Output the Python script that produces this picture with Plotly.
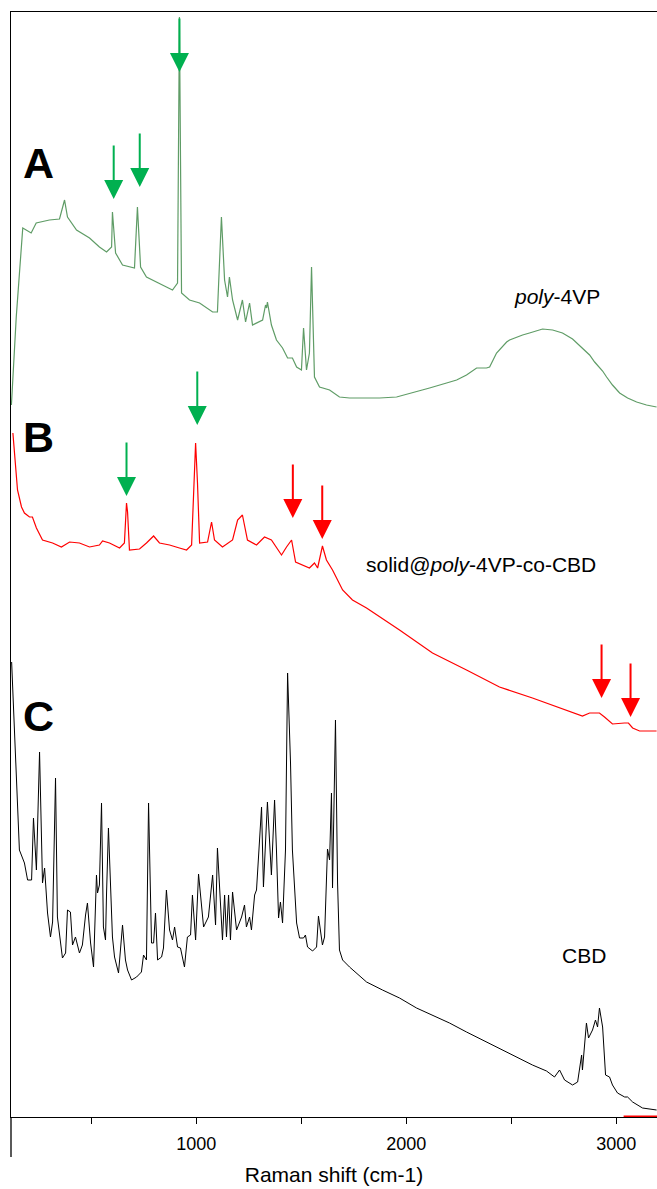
import plotly.graph_objects as go

# ---------------- data (Raman shift in cm-1, intensity in a.u. on the stacked axis) ----------------
shift_A = [120, 143, 174, 190, 214, 238, 301, 349, 373, 387, 430, 492, 539, 573, 597, 601, 616, 649, 706, 720,
           735, 763, 825, 858, 887, 911, 920, 930, 968, 1016, 1078, 1101, 1120, 1135, 1149, 1158, 1173, 1197, 1220,
           1235, 1254, 1268, 1316, 1330, 1335, 1339, 1358, 1382, 1411, 1435, 1458, 1478, 1501, 1511, 1525, 1539,
           1549, 1563, 1587, 1635, 1682, 1730, 1792, 1873, 1954, 2030, 2111, 2192, 2240, 2287, 2335, 2382, 2397,
           2430, 2459, 2478, 2492, 2525, 2554, 2587, 2649, 2697, 2744, 2792, 2840, 2873, 2897, 2920, 2935, 2954,
           2982, 3016, 3054, 3097, 3144, 3192]
int_A = [712, 800, 889, 887, 884, 894, 897, 898, 917, 900, 887, 879, 870, 865, 870, 905, 864, 852, 849, 910,
         850, 840, 834, 830, 827, 834, 1100, 824, 817, 814, 805, 805, 900, 837, 820, 840, 817, 797, 817,
         795, 814, 792, 797, 812, 809, 815, 792, 777, 769, 759, 759, 750, 747, 789, 747, 764,
         850, 740, 730, 727, 720, 719, 719, 719, 720, 724, 729, 734, 737, 742, 749, 749, 750,
         764, 771, 775, 777, 780, 782, 784, 788, 787, 784, 778, 769, 762, 755, 750, 746, 740,
         732, 724, 719, 715, 712, 710]

shift_B = [127, 139, 149, 168, 182, 206, 220, 239, 268, 316, 358, 397, 444, 492, 539, 554, 587, 635, 658, 668,
           673, 682, 730, 763, 797, 825, 873, 920, 954, 978, 987, 997, 1006, 1016, 1054, 1073, 1087, 1125, 1173,
           1197, 1220, 1244, 1287, 1325, 1358, 1406, 1430, 1454, 1473, 1506, 1539, 1563, 1578, 1601, 1620, 1649,
           1697, 1744, 1811, 1968, 2125, 2287, 2444, 2601, 2763, 2839, 2873, 2920, 2944, 2982, 3039, 3058, 3078,
           3111, 3192]
int_B = [684, 650, 627, 610, 604, 600, 600, 589, 577, 574, 570, 575, 574, 570, 572, 576, 574, 569, 574, 614,
         605, 567, 568, 574, 581, 574, 572, 569, 567, 572, 617, 674, 634, 574, 575, 595, 577, 570, 577,
         597, 602, 577, 572, 580, 577, 562, 570, 577, 555, 552, 549, 554, 549, 571, 557, 547,
         527, 517, 509, 487, 464, 447, 430, 419, 407, 401, 404, 404, 400, 393, 394, 394, 389,
         386, 386]

shift_C = [121, 143, 158, 171, 182, 197, 216, 225, 239, 254, 268, 278, 292, 306, 316, 330, 339, 363, 378, 387,
           401, 411, 425, 444, 458, 473, 482, 497, 511, 525, 530, 539, 549, 558, 568, 573, 582, 601, 611, 630,
           649, 663, 673, 692, 716, 739, 749, 763, 773, 787, 797, 806, 816, 835, 844, 858, 873, 887, 897, 911,
           925, 944, 958, 973, 982, 997, 1011, 1035, 1058, 1078, 1092, 1101, 1125, 1135, 1144, 1154, 1163, 1173,
           1192, 1216, 1230, 1239, 1254, 1263, 1278, 1287, 1297, 1311, 1320, 1330, 1339, 1358, 1373, 1382, 1392,
           1401, 1411, 1425, 1435, 1449, 1458, 1478, 1492, 1511, 1520, 1530, 1554, 1573, 1582, 1601, 1611, 1625,
           1635, 1644, 1649, 1663, 1673, 1682, 1697, 1730, 1811, 1887, 1968, 2049, 2125, 2206, 2287, 2363, 2444,
           2525, 2601, 2668, 2706, 2730, 2754, 2792, 2816, 2835, 2839, 2858, 2868, 2887, 2901, 2911, 2920, 2935,
           2949, 2968, 2982, 3006, 3040, 3054, 3078, 3125, 3192]
int_C = [455, 334, 267, 260, 254, 237, 237, 299, 247, 365, 234, 249, 204, 180, 195, 339, 200, 159, 164, 207,
         205, 172, 180, 164, 172, 202, 214, 174, 150, 242, 224, 232, 314, 190, 177, 224, 289, 180, 160, 144,
         192, 157, 147, 137, 140, 145, 162, 157, 314, 174, 174, 204, 157, 160, 169, 227, 187, 177, 190, 170,
         169, 150, 180, 182, 222, 177, 243, 190, 200, 242, 192, 269, 177, 222, 180, 222, 177, 225,
         187, 200, 212, 190, 200, 187, 222, 227, 267, 310, 230, 274, 315, 242, 317, 267, 199,
         215, 194, 267, 444, 354, 267, 194, 179, 179, 182, 170, 166, 170, 201, 172, 180, 268,
         257, 324, 229, 397, 234, 167, 157, 150, 135, 127, 119, 109, 102, 94, 85, 77, 69,
         60, 52, 46, 40, 47, 37, 32, 35, 62, 47, 94, 79, 87, 97, 90, 109, 90,
         42, 40, 32, 24, 20, 20, 15, 9, 7]

# short red baseline fragment visible on the axis at the far right
shift_Bbase = [3035, 3194]
int_Bbase = [0.6, 0.6]

# marked bands (arrow tips): shift, intensity
arrows_A_green = [(607, 918), (731, 930), (920, 1045)]
arrows_B_green = [(668, 621), (1005, 692)]
arrows_B_red = [(1460, 599), (1600, 578), (2930, 419), (3068, 400)]

tick_vals = [500, 1000, 1500, 2000, 2500, 3000]
tick_text = ["", "1000", "", "2000", "", "3000"]

# ---------------- figure ----------------
FONT = "Liberation Sans, Arial, Helvetica, sans-serif"
GREEN_LINE = "#5f9c66"
GREEN_ARROW = "#00b050"
RED = "#ff0000"

fig = go.Figure()
fig.add_trace(go.Scatter(x=shift_A, y=int_A, mode="lines", line=dict(color=GREEN_LINE, width=1.2), hoverinfo="skip"))
fig.add_trace(go.Scatter(x=shift_B, y=int_B, mode="lines", line=dict(color=RED, width=1.2), hoverinfo="skip"))
fig.add_trace(go.Scatter(x=shift_C, y=int_C, mode="lines", line=dict(color="black", width=1.0), hoverinfo="skip"))
fig.add_trace(go.Scatter(x=shift_Bbase, y=int_Bbase, mode="lines", line=dict(color=RED, width=2), hoverinfo="skip"))

annotations = []
def add_arrows(lst, color):
    for (x, y) in lst:
        annotations.append(dict(x=x, y=y, xref="x", yref="y", text="", showarrow=True,
                                ax=0, ay=-55, arrowhead=2, arrowsize=1.9, arrowwidth=2,
                                arrowcolor=color, standoff=0))

add_arrows(arrows_A_green, GREEN_ARROW)
add_arrows(arrows_B_green, GREEN_ARROW)
add_arrows(arrows_B_red, RED)

for lab, x, y in [("A", 249, 954), ("B", 251, 680), ("C", 247, 401)]:
    annotations.append(dict(x=x, y=y, xref="x", yref="y", text=f"<b>{lab}</b>", showarrow=False,
                            font=dict(family=FONT, size=43, color="black")))

for txt, x, y in [("<i>poly</i>-4VP", 2716, 821),
                  ("solid@<i>poly</i>-4VP-co-CBD", 2354, 553),
                  ("CBD", 2844, 162)]:
    annotations.append(dict(x=x, y=y, xref="x", yref="y", text=txt, showarrow=False,
                            font=dict(family=FONT, size=21, color="black")))

fig.update_layout(
    width=657, height=1189,
    margin=dict(l=11, r=0, t=12, b=72),
    paper_bgcolor="white", plot_bgcolor="white",
    showlegend=False,
    font=dict(family=FONT, color="black"),
    annotations=annotations,
    shapes=[dict(type="line", xref="paper", yref="paper", x0=0, x1=0, y0=0, y1=-40 / 1105,
                 line=dict(color="black", width=1.3))],
)
fig.update_xaxes(range=[118, 3194], tickvals=tick_vals, ticktext=tick_text,
                 ticks="outside", ticklen=6, tickwidth=1.3, tickcolor="black",
                 showline=True, linecolor="black", linewidth=1.3, mirror=True,
                 showgrid=False, zeroline=False, ticklabelstandoff=4,
                 tickfont=dict(family=FONT, size=18, color="black"),
                 title=dict(text="Raman shift (cm-1)", font=dict(family=FONT, size=21, color="black"), standoff=14))
fig.update_yaxes(range=[0, 1105], showline=True, linecolor="black", linewidth=1.3,
                 showticklabels=False, ticks="", showgrid=False, zeroline=False)

fig.write_html("out.html",
               config={"displayModeBar": False, "staticPlot": True},
               post_script="document.body.style.margin='0';document.body.style.overflow='hidden';")
